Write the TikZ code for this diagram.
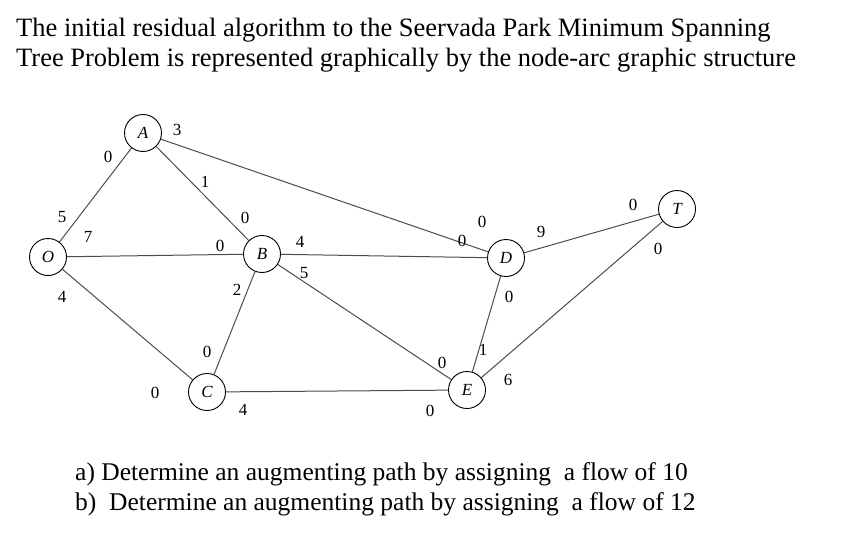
\documentclass[tikz,border=0pt]{standalone}
\usepackage{fontspec}
\setmainfont{Liberation Serif}
\begin{document}
\begin{tikzpicture}[x=1pt,y=-1pt,
  nd/.style={circle,draw,line width=0.9pt,minimum size=37pt,inner sep=0pt,font=\fontsize{17}{17}\selectfont\itshape},
  lab/.style={font=\fontsize{17}{17}\selectfont,inner sep=0pt},
  ed/.style={draw=black!70,line width=1pt},
  txt/.style={anchor=west,inner sep=0pt,font=\fontsize{26.5}{26.5}\selectfont}]
\useasboundingbox (0,0) rectangle (845,535);
\node[txt] (t1) at (16,30) {The initial residual algorithm to the Seervada Park Minimum Spanning};
\node[txt] (t2) at (16,60) {Tree Problem is represented graphically by the node-arc graphic structure};
\node[txt,font=\fontsize{25.5}{25.5}\selectfont] (q1) at (75,474) {a) Determine an augmenting path by assigning\ \ a flow of 10};
\node[txt,font=\fontsize{25.5}{25.5}\selectfont] (q2) at (75,504) {b)\ \ Determine an augmenting path by assigning\ \ a flow of 12};
\node[nd] (O) at (48,257) {O};
\node[nd] (A) at (143,133) {A};
\node[nd] (B) at (262,254) {B};
\node[nd] (C) at (207,392) {C};
\node[nd] (D) at (506,258) {D};
\node[nd] (E) at (467,390) {E};
\node[nd] (T) at (677,209) {T};
\foreach \a/\b in {O/A,O/B,O/C,A/B,A/D,B/C,B/D,B/E,C/E,D/E,D/T,E/T}
  \draw[ed] (\a) -- (\b);
\foreach \x/\y/\t [count=\i] in {62/217/5,88/237/7,62/297/4,108/157/0,177/130/3,205/182/1,245/218/0,220/246/0,300/242/4,304/273/5,237/290/2,207/352/0,155/393/0,243/410/4,482/222/0,462/241/0,541/232/9,509/297/0,442/363/0,483/350/1,508/380/6,430/411/0,633/205/0,658/249/0}
  \node[lab] (l\i) at (\x,\y) {\t};
\end{tikzpicture}
\end{document}
